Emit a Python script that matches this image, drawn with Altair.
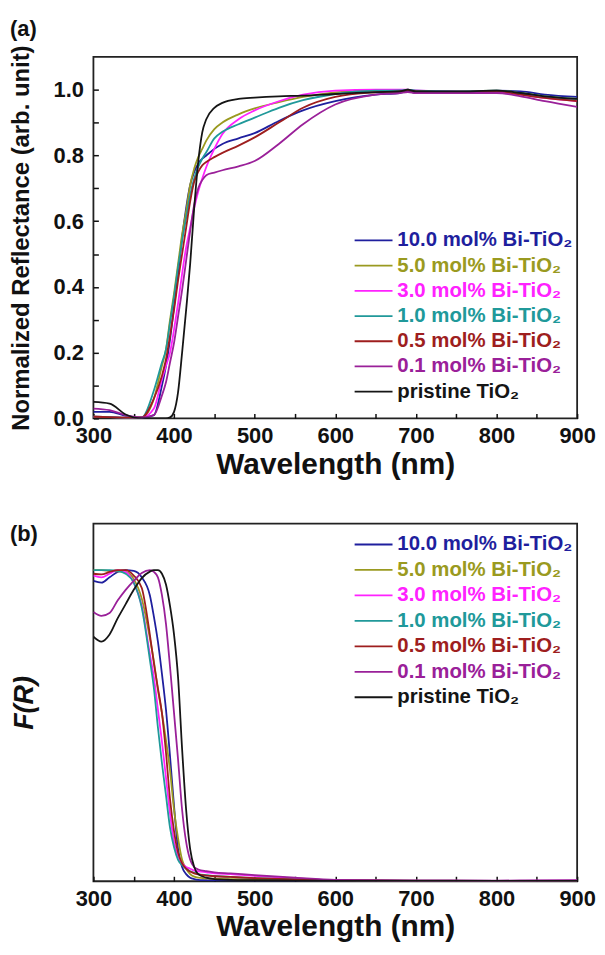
import altair as alt
import pandas as pd

# ---------------- data ----------------
series = ["10.0 mol% Bi-TiO₂", "5.0 mol% Bi-TiO₂", "3.0 mol% Bi-TiO₂",
          "1.0 mol% Bi-TiO₂", "0.5 mol% Bi-TiO₂", "0.1 mol% Bi-TiO₂",
          "pristine TiO₂"]
colors = ["#1f1f9e", "#9a9a20", "#ff22ff", "#20999a", "#9e1e1e", "#9a2099", "#151515"]

# (a) normalized reflectance
wl_a = [300, 320, 340, 360, 375, 385, 390, 395, 400, 405, 410, 415, 420, 425, 430,
        435, 440, 450, 460, 480, 500, 530, 560, 600, 650, 680, 690, 700, 750, 800,
        830, 860, 900]
r_10 = [0.020, 0.020, 0.008, 0.002, 0.010, 0.100, 0.160, 0.240, 0.340, 0.440, 0.550,
        0.640, 0.710, 0.750, 0.775, 0.790, 0.800, 0.820, 0.835, 0.852, 0.868, 0.905,
        0.937, 0.965, 0.985, 0.990, 0.995, 0.990, 0.993, 0.997, 0.995, 0.985, 0.978]
r_5 = [0.005, 0.004, 0.002, 0.003, 0.060, 0.160, 0.210, 0.300, 0.380, 0.470, 0.560,
       0.630, 0.710, 0.760, 0.795, 0.820, 0.845, 0.880, 0.900, 0.925, 0.943, 0.962,
       0.978, 0.992, 0.998, 0.997, 1.000, 0.996, 0.995, 0.997, 0.990, 0.980, 0.972]
r_3 = [0.005, 0.004, 0.002, 0.002, 0.030, 0.120, 0.160, 0.200, 0.270, 0.350, 0.440,
       0.520, 0.580, 0.640, 0.690, 0.730, 0.765, 0.820, 0.865, 0.910, 0.937, 0.965,
       0.985, 0.997, 1.000, 1.000, 1.000, 0.998, 0.995, 0.993, 0.985, 0.975, 0.965]
r_1 = [0.005, 0.004, 0.002, 0.003, 0.085, 0.170, 0.210, 0.290, 0.370, 0.460, 0.540,
       0.610, 0.680, 0.730, 0.765, 0.790, 0.810, 0.852, 0.872, 0.895, 0.915, 0.945,
       0.968, 0.987, 0.997, 0.998, 1.000, 0.997, 0.995, 0.997, 0.990, 0.980, 0.972]
r_05 = [0.005, 0.004, 0.002, 0.003, 0.060, 0.130, 0.180, 0.250, 0.330, 0.420, 0.500,
        0.580, 0.660, 0.720, 0.750, 0.770, 0.780, 0.795, 0.808, 0.830, 0.855, 0.900,
        0.945, 0.978, 0.992, 0.995, 0.998, 0.995, 0.993, 0.995, 0.985, 0.975, 0.965]
r_01 = [0.030, 0.025, 0.010, 0.003, 0.010, 0.070, 0.110, 0.170, 0.230, 0.310, 0.390,
        0.480, 0.570, 0.650, 0.700, 0.725, 0.740, 0.748, 0.755, 0.767, 0.783, 0.835,
        0.895, 0.955, 0.985, 0.990, 0.993, 0.990, 0.990, 0.990, 0.980, 0.965, 0.948]
r_0 = [0.050, 0.045, 0.012, 0.000, 0.000, 0.000, 0.000, 0.003, 0.020, 0.080, 0.200,
       0.330, 0.470, 0.640, 0.780, 0.870, 0.910, 0.945, 0.960, 0.972, 0.976, 0.980,
       0.982, 0.987, 0.993, 0.995, 1.000, 0.995, 0.995, 0.997, 0.990, 0.980, 0.972]

# (b) Kubelka-Munk function F(R), arbitrary units
wl_b = [300, 310, 320, 330, 340, 350, 360, 370, 375, 380, 385, 390, 395, 400, 405,
        410, 415, 420, 425, 430, 440, 450, 470, 500, 550, 600, 700, 800, 900]
f_10 = [0.840, 0.835, 0.850, 0.865, 0.870, 0.868, 0.850, 0.800, 0.740, 0.670, 0.580,
        0.480, 0.350, 0.210, 0.090, 0.040, 0.020, 0.010, 0.006, 0.004, 0.003, 0.002,
        0.002, 0.001, 0.001, 0.001, 0.001, 0.001, 0.001]
f_5 = [0.870, 0.870, 0.868, 0.867, 0.865, 0.845, 0.790, 0.680, 0.615, 0.535, 0.470,
       0.395, 0.310, 0.200, 0.120, 0.060, 0.035, 0.020, 0.013, 0.010, 0.008, 0.007,
       0.006, 0.005, 0.003, 0.002, 0.001, 0.001, 0.001]
f_3 = [0.855, 0.850, 0.860, 0.870, 0.865, 0.835, 0.770, 0.635, 0.570, 0.480, 0.390,
       0.290, 0.190, 0.110, 0.070, 0.050, 0.040, 0.035, 0.030, 0.028, 0.025, 0.022,
       0.020, 0.015, 0.008, 0.003, 0.002, 0.001, 0.002]
f_1 = [0.870, 0.870, 0.870, 0.868, 0.860, 0.835, 0.765, 0.620, 0.540, 0.430, 0.330,
       0.240, 0.150, 0.095, 0.060, 0.045, 0.035, 0.028, 0.024, 0.020, 0.017, 0.015,
       0.012, 0.009, 0.005, 0.003, 0.002, 0.001, 0.001]
f_05 = [0.860, 0.858, 0.865, 0.870, 0.870, 0.855, 0.820, 0.690, 0.610, 0.540, 0.470,
        0.360, 0.230, 0.140, 0.080, 0.050, 0.035, 0.027, 0.022, 0.019, 0.016, 0.014,
        0.012, 0.009, 0.005, 0.003, 0.002, 0.001, 0.001]
f_01 = [0.753, 0.742, 0.750, 0.785, 0.815, 0.840, 0.862, 0.870, 0.865, 0.850, 0.800,
        0.720, 0.600, 0.470, 0.340, 0.200, 0.110, 0.060, 0.040, 0.033, 0.028, 0.025,
        0.022, 0.017, 0.010, 0.004, 0.002, 0.002, 0.003]
f_0 = [0.684, 0.670, 0.690, 0.735, 0.775, 0.815, 0.848, 0.866, 0.870, 0.870, 0.860,
       0.830, 0.770, 0.690, 0.570, 0.370, 0.200, 0.090, 0.040, 0.020, 0.010, 0.006,
       0.004, 0.003, 0.002, 0.001, 0.001, 0.001, 0.001]

x_ticks = [300, 350, 400, 450, 500, 550, 600, 650, 700, 750, 800, 850, 900]
y_ticks = [0.0, 0.1, 0.2, 0.3, 0.4, 0.5, 0.6, 0.7, 0.8, 0.9, 1.0]


def long_table(wl, curves):
    rows = []
    for name, vals in zip(series, curves):
        for w, v in zip(wl, vals):
            rows.append({"series": name, "wl": w, "val": v})
    return pd.DataFrame(rows)


df_a = long_table(wl_a, [r_10, r_5, r_3, r_1, r_05, r_01, r_0])
df_b = long_table(wl_b, [f_10, f_5, f_3, f_1, f_05, f_01, f_0])

FONT = "Liberation Sans"
cscale = alt.Scale(domain=series, range=colors)
C = alt.Color("series:N", scale=cscale, legend=None)

x_axis = alt.Axis(
    title="Wavelength (nm)", values=x_ticks,
    labelExpr="datum.value % 100 == 0 ? datum.label : ''",
    grid=False, domain=False, offset=-5, tickSize=5, tickWidth=1.5,
    tickColor="#111", labelPadding=7, labelFontSize=22, labelFlush=False,
    labelOverlap=False, titleFontSize=30, titlePadding=3,
)
X = alt.X("wl:Q", scale=alt.Scale(domain=[300, 900], nice=False, zero=False),
          axis=x_axis)

y_axis_a = alt.Axis(
    title="Normalized Reflectance (arb. unit)", values=y_ticks,
    labelExpr="round(datum.value * 10) % 2 == 0 ? format(datum.value, '.1f') : ''",
    grid=False, domain=False, offset=-5, tickSize=5, tickWidth=1.5,
    tickColor="#111", labelPadding=10, labelFontSize=22, labelOverlap=False,
    titleFontSize=24, titlePadding=20,
)
Ya = alt.Y("val:Q", scale=alt.Scale(domain=[0, 1.1], nice=False, zero=False),
           axis=y_axis_a)

y_axis_b = alt.Axis(
    title="F(R)", labels=False, ticks=False, grid=False, domain=False,
    titleFontSize=27, titleFontStyle="italic", titlePadding=55,
)
Yb = alt.Y("val:Q", scale=alt.Scale(domain=[0, 1.0], nice=False, zero=False),
           axis=y_axis_b)


def legend_layers(Y, y_first, y_step):
    leg = pd.DataFrame({"series": series, "row": list(range(len(series)))})
    leg["wl"] = 624.0
    leg["wl2"] = 671.0
    leg["val"] = y_first - leg["row"] * y_step
    txt = leg.copy()
    txt["wl"] = 677.0
    rules = alt.Chart(leg).mark_rule(strokeWidth=1.8).encode(
        x=X, x2="wl2:Q", y=Y, color=C)
    texts = alt.Chart(txt).mark_text(
        align="left", baseline="middle", font=FONT, fontWeight="bold",
        fontSize=20.5).encode(x=X, y=Y, text="series:N", color=C)
    return rules, texts


def panel_label(label, dy):
    return alt.Chart(pd.DataFrame({"t": [label]})).mark_text(
        align="left", baseline="middle", font=FONT, fontWeight="bold",
        fontSize=22, color="#111").encode(
        text="t:N", x=alt.value(-84), y=alt.value(dy))


lines_a = alt.Chart(df_a).mark_line(
    strokeWidth=1.8, interpolate="monotone", clip=True).encode(
    x=X, y=Ya, color=C)
rules_a, texts_a = legend_layers(Ya, 0.5415, 0.0767)
top = alt.layer(lines_a, rules_a, texts_a, panel_label("(a)", -28)).properties(
    width=487, height=364)

lines_b = alt.Chart(df_b).mark_line(
    strokeWidth=1.8, interpolate="monotone", clip=True).encode(
    x=X, y=Yb, color=C)
rules_b, texts_b = legend_layers(Yb, 0.9418, 0.0712)
bottom = alt.layer(lines_b, rules_b, texts_b, panel_label("(b)", 10)).properties(
    width=487, height=360)

chart = alt.vconcat(top, bottom, spacing=42).properties(
    padding={"left": 0, "top": 6, "right": 0, "bottom": 0},
    background="white",
).configure_view(
    stroke="#222", strokeWidth=1.8,
).configure_axis(
    labelFont=FONT, titleFont=FONT, labelFontWeight="bold",
    titleFontWeight="bold", labelColor="#111", titleColor="#111",
)

chart.save("out.html", embed_options={"renderer": "svg", "actions": False})
